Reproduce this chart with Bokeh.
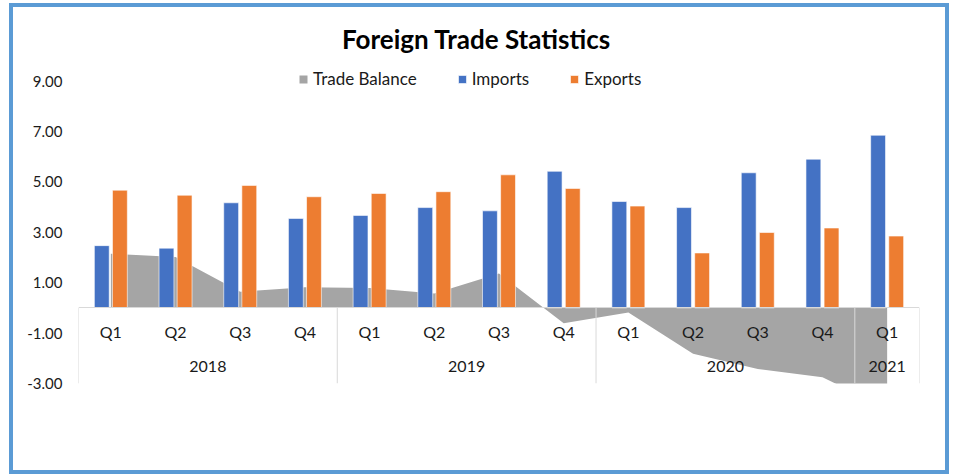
from bokeh.plotting import figure
from bokeh.models import (ColumnDataSource, FactorRange, Range1d, LinearAxis, CategoricalAxis,
                          FixedTicker, NumeralTickFormatter, Label, Legend)
from bokeh.transform import dodge
from bokeh.core.properties import value
from bokeh.embed import file_html
from bokeh.resources import INLINE

# ---- data ----
years = ["2018", "2018", "2018", "2018", "2019", "2019", "2019", "2019",
         "2020", "2020", "2020", "2020", "2021"]
quarters = ["Q1", "Q2", "Q3", "Q4", "Q1", "Q2", "Q3", "Q4",
            "Q1", "Q2", "Q3", "Q4", "Q1"]
imports = [2.47, 2.37, 4.17, 3.55, 3.67, 3.98, 3.85, 5.42, 4.22, 3.98, 5.36, 5.90, 6.85]
exports = [4.67, 4.47, 4.86, 4.41, 4.54, 4.61, 5.28, 4.74, 4.04, 2.18, 2.99, 3.17, 2.85]
balance = [2.15, 2.02, 0.64, 0.82, 0.79, 0.57, 1.36, -0.61, -0.18, -1.82, -2.42, -2.75, -4.00]
y_ticks = [-3, -1, 1, 3, 5, 7, 9]
year_groups = ["2018", "2019", "2020", "2021"]

FONT = "Lato"
TXT = "#1a1a1a"

factors = list(zip(years, quarters))
src = ColumnDataSource(dict(x=factors, imports=imports, exports=exports, balance=balance))

xr = FactorRange(*factors, range_padding=0, factor_padding=0, group_padding=0, subgroup_padding=0)
# y range extends above the top tick so the title and legend sit inside the frame
p = figure(x_range=xr, y_range=Range1d(-3, 11.72), width=932, height=463,
           output_backend="svg", toolbar_location=None,
           min_border_left=65, min_border_right=26, min_border_top=5, min_border_bottom=87,
           x_axis_type=None, y_axis_type=None)
p.styles = {"outline": "4px solid #5B9BD5"}
p.margin = (7, 0, 0, 13)
p.outline_line_color = None
p.xgrid.visible = False
p.ygrid.visible = False

# group boundaries in the range's synthetic coordinates (one unit per quarter)
counts = [years.count(y) for y in year_groups]
bounds = [0]
for c in counts:
    bounds.append(bounds[-1] + c)

# trade balance area
area = p.varea(x="x", y1=0, y2="balance", source=src, fill_color="#A5A5A5")

# group separators
p.segment(x0=bounds, y0=0, x1=bounds, y1=-3, line_color="#D9D9D9", line_width=1)

# bars
b1 = p.vbar(x=dodge("x", -0.14, range=p.x_range), top="imports", width=0.23, source=src,
            fill_color="#4472C4", line_color="white", line_width=0.6)
b2 = p.vbar(x=dodge("x", 0.14, range=p.x_range), top="exports", width=0.23, source=src,
            fill_color="#ED7D31", line_color="white", line_width=0.6)

# y axis
yax = LinearAxis(ticker=FixedTicker(ticks=y_ticks), formatter=NumeralTickFormatter(format="0.00"))
yax.axis_line_color = None
yax.major_tick_line_color = None
yax.major_tick_out = 0
yax.minor_tick_line_color = None
yax.major_label_standoff = 16
yax.major_label_text_font = FONT
yax.major_label_text_font_size = "15px"
yax.major_label_text_color = TXT
p.add_layout(yax, "left")

def cat_axis(standoff):
    ax = CategoricalAxis(fixed_location=0)
    ax.major_tick_line_color = None
    ax.major_tick_out = 0
    ax.major_tick_in = 0
    ax.minor_tick_line_color = None
    ax.major_label_standoff = standoff
    ax.major_label_text_font = FONT
    ax.major_label_text_font_size = "16px"
    ax.major_label_text_color = TXT
    ax.group_text_font = FONT
    ax.group_text_font_size = "16px"
    ax.group_text_font_style = "normal"
    ax.group_text_color = TXT
    ax.separator_line_color = None
    return ax

# quarter labels
qax = cat_axis(14)
qax.axis_line_color = "#D9D9D9"
qax.group_text_alpha = 0
p.add_layout(qax, "below")

# year labels
yrax = cat_axis(53)
yrax.axis_line_color = None
yrax.major_label_text_alpha = 0
p.add_layout(yrax, "below")

# legend
legend = Legend(items=[("Trade Balance", [area]), ("Imports", [b1]), ("Exports", [b2])],
                orientation="horizontal", location=(220, 294),
                glyph_width=10, glyph_height=10, label_standoff=5, spacing=40,
                padding=0, margin=0, border_line_color=None, background_fill_alpha=0,
                label_text_font=FONT, label_text_font_size="17px", label_text_color=TXT)
p.add_layout(legend, "center")

# title
p.add_layout(Label(x=398, y=345, x_units="screen", y_units="screen",
                   text="Foreign Trade Statistics", text_align="center", text_baseline="middle",
                   text_font=FONT, text_font_size="26px", text_font_style="bold", text_color="black"))

open("out.html", "w").write(file_html(p, INLINE))
